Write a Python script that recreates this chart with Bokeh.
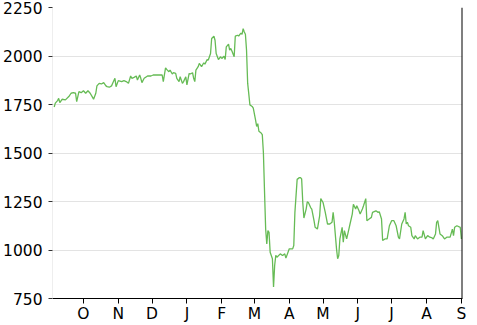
import pandas as pd
from bokeh.plotting import figure
from bokeh.models import Range1d, FixedTicker, Span, ColumnDataSource
from bokeh.embed import file_html
from bokeh.resources import INLINE

dates = [
    "2019-09-05", "2019-09-06", "2019-09-08", "2019-09-09", "2019-09-10", "2019-09-12", "2019-09-15",
    "2019-09-18", "2019-09-20", "2019-09-22", "2019-09-24", "2019-09-25", "2019-09-27", "2019-09-29",
    "2019-10-01", "2019-10-03", "2019-10-05", "2019-10-07", "2019-10-09", "2019-10-10", "2019-10-12",
    "2019-10-13", "2019-10-15", "2019-10-17", "2019-10-19", "2019-10-21", "2019-10-22", "2019-10-24",
    "2019-10-26", "2019-10-27", "2019-10-29", "2019-10-30", "2019-11-01", "2019-11-04", "2019-11-06",
    "2019-11-08", "2019-11-10", "2019-11-12", "2019-11-13", "2019-11-15", "2019-11-17", "2019-11-18",
    "2019-11-20", "2019-11-21", "2019-11-22", "2019-11-24", "2019-11-27", "2019-11-30", "2019-12-02",
    "2019-12-08", "2019-12-10", "2019-12-11", "2019-12-13", "2019-12-14", "2019-12-16", "2019-12-17",
    "2019-12-19", "2019-12-20", "2019-12-22", "2019-12-23", "2019-12-25", "2019-12-26", "2019-12-28",
    "2019-12-29", "2019-12-31", "2020-01-01", "2020-01-03", "2020-01-04", "2020-01-06", "2020-01-07",
    "2020-01-08", "2020-01-09", "2020-01-11", "2020-01-12", "2020-01-14", "2020-01-16", "2020-01-17",
    "2020-01-19", "2020-01-20", "2020-01-22", "2020-01-23", "2020-01-25", "2020-01-26", "2020-01-27",
    "2020-01-29", "2020-01-31", "2020-02-01", "2020-02-03", "2020-02-04", "2020-02-05", "2020-02-07",
    "2020-02-08", "2020-02-09", "2020-02-10", "2020-02-12", "2020-02-13", "2020-02-15", "2020-02-16",
    "2020-02-18", "2020-02-19", "2020-02-20", "2020-02-21", "2020-02-22", "2020-02-23", "2020-02-24",
    "2020-02-25", "2020-02-26", "2020-02-28", "2020-02-29", "2020-03-02", "2020-03-03", "2020-03-04",
    "2020-03-05", "2020-03-07", "2020-03-08", "2020-03-09", "2020-03-10", "2020-03-11", "2020-03-12",
    "2020-03-13", "2020-03-14", "2020-03-15", "2020-03-17", "2020-03-18", "2020-03-19", "2020-03-20",
    "2020-03-21", "2020-03-24", "2020-03-26", "2020-03-28", "2020-03-29", "2020-04-01", "2020-04-04",
    "2020-04-05", "2020-04-06", "2020-04-08", "2020-04-10", "2020-04-11", "2020-04-12", "2020-04-13",
    "2020-04-14", "2020-04-16", "2020-04-17", "2020-04-18", "2020-04-20", "2020-04-21", "2020-04-23",
    "2020-04-24", "2020-04-26", "2020-04-28", "2020-04-29", "2020-05-01", "2020-05-03", "2020-05-05",
    "2020-05-07", "2020-05-09", "2020-05-10", "2020-05-11", "2020-05-13", "2020-05-14", "2020-05-15",
    "2020-05-16", "2020-05-18", "2020-05-19", "2020-05-20", "2020-05-22", "2020-05-24", "2020-05-25",
    "2020-05-27", "2020-05-28", "2020-05-30", "2020-05-31", "2020-06-02", "2020-06-03", "2020-06-05",
    "2020-06-06", "2020-06-08", "2020-06-09", "2020-06-11", "2020-06-13", "2020-06-14", "2020-06-17",
    "2020-06-19", "2020-06-20", "2020-06-22", "2020-06-23", "2020-06-25", "2020-06-27", "2020-06-29",
    "2020-07-01", "2020-07-03", "2020-07-05", "2020-07-07", "2020-07-08", "2020-07-10", "2020-07-12",
    "2020-07-13", "2020-07-14", "2020-07-15", "2020-07-16", "2020-07-18", "2020-07-19", "2020-07-21",
    "2020-07-22", "2020-07-24", "2020-07-26", "2020-07-28", "2020-07-29", "2020-07-31", "2020-08-02",
    "2020-08-04", "2020-08-06", "2020-08-07", "2020-08-09", "2020-08-10", "2020-08-11", "2020-08-13",
    "2020-08-15", "2020-08-17", "2020-08-19", "2020-08-22", "2020-08-24", "2020-08-25", "2020-08-26",
    "2020-08-28", "2020-08-31", "2020-09-01",
]
values = [
    1737, 1757, 1770, 1782, 1760, 1777, 1774,
    1791, 1808, 1811, 1808, 1765, 1816, 1811,
    1821, 1808, 1821, 1808, 1788, 1777, 1808,
    1846, 1859, 1856, 1863, 1846, 1842, 1839,
    1846, 1859, 1885, 1842, 1873, 1868, 1873,
    1868, 1859, 1897, 1885, 1890, 1897, 1876,
    1902, 1885, 1863, 1885, 1897, 1897, 1902,
    1902, 1902, 1868, 1939, 1931, 1919, 1927,
    1907, 1914, 1910, 1885, 1868, 1893, 1859,
    1868, 1893, 1851, 1910, 1907, 1914, 1885,
    1868, 1927, 1945, 1962, 1945, 1965, 1958,
    1982, 1979, 2013, 2090, 2102, 2081, 2013,
    1982, 1996, 1987, 1999, 1982, 2047, 2061,
    2030, 2039, 2026, 1996, 2102, 2107, 2103,
    2118, 2112, 2141, 2124, 2112, 2030, 1860,
    1805, 1748, 1740, 1731, 1671, 1637, 1651,
    1612, 1603, 1595, 1501, 1300, 1108, 1031,
    1100, 1091, 988, 955, 810, 920, 972,
    963, 980, 972, 980, 958, 1006, 1006,
    1023, 1194, 1364, 1373, 1373, 1366, 1245,
    1165, 1211, 1248, 1245, 1219, 1211, 1151,
    1117, 1108, 1176, 1265, 1245, 1194, 1134,
    1134, 1143, 1194, 1143, 1006, 955, 972,
    1057, 1117, 1040, 1100, 1057, 1108, 1134,
    1185, 1236, 1211, 1228, 1202, 1185, 1211,
    1228, 1265, 1151, 1160, 1168, 1194, 1202,
    1194, 1197, 1160, 1049, 1057, 1057, 1125,
    1151, 1151, 1125, 1066, 1057, 1134, 1160,
    1194, 1134, 1143, 1125, 1117, 1074, 1057,
    1074, 1057, 1066, 1066, 1100, 1057, 1074,
    1066, 1062, 1057, 1083, 1143, 1151, 1083,
    1074, 1057, 1066, 1066, 1108, 1074, 1117,
    1125, 1117, 1057,
]

month_ticks = ["2019-10-01", "2019-11-01", "2019-12-01", "2020-01-01", "2020-02-01", "2020-03-01",
               "2020-04-01", "2020-05-01", "2020-06-01", "2020-07-01", "2020-08-01", "2020-09-01"]
month_labels = ["O", "N", "D", "J", "F", "M", "A", "M", "J", "J", "A", "S"]
y_ticks = [750, 1000, 1250, 1500, 1750, 2000, 2250]

x_start = pd.Timestamp("2019-09-03 12:00")
x_end = pd.Timestamp("2020-09-02 00:00")

src = ColumnDataSource(data=dict(date=pd.to_datetime(dates), value=values))

p = figure(width=477, height=325, x_axis_type="datetime", output_backend="svg",
           toolbar_location=None, x_range=Range1d(x_start, x_end), y_range=Range1d(750, 2250),
           min_border_left=52, min_border_right=15, min_border_top=7, min_border_bottom=25)

p.line("date", "value", source=src, line_color="#66bb55", line_width=1.3)

font = "DejaVu Sans"
tick_ms = [float(pd.Timestamp(t).value // 10**6) for t in month_ticks]
p.xaxis.ticker = FixedTicker(ticks=tick_ms)
p.xaxis.major_label_overrides = {t: lab for t, lab in zip(tick_ms, month_labels)}
p.xaxis.minor_tick_line_color = None
p.xaxis.major_tick_out = 5
p.xaxis.major_tick_in = 0
p.xaxis.major_label_standoff = 1
p.xaxis.axis_line_color = "black"
p.xaxis.major_tick_line_color = "black"
p.xaxis.major_label_text_font = font
p.xaxis.major_label_text_font_size = "15.5px"
p.xaxis.major_label_text_color = "black"

p.yaxis.ticker = FixedTicker(ticks=y_ticks)
p.yaxis.minor_tick_line_color = None
p.yaxis.major_tick_out = 4
p.yaxis.major_tick_in = 0
p.yaxis.major_label_standoff = 6
p.yaxis.axis_line_color = "#eeeeee"
p.yaxis.major_tick_line_color = "#333333"
p.yaxis.major_label_text_font = font
p.yaxis.major_label_text_font_size = "15.5px"
p.yaxis.major_label_text_color = "black"

p.xgrid.grid_line_color = None
p.ygrid.grid_line_color = "#e3e3e3"
p.outline_line_color = None

p.add_layout(Span(location=x_end, dimension="height", line_color="black", line_width=2))

open("out.html", "w").write(file_html(p, INLINE))
